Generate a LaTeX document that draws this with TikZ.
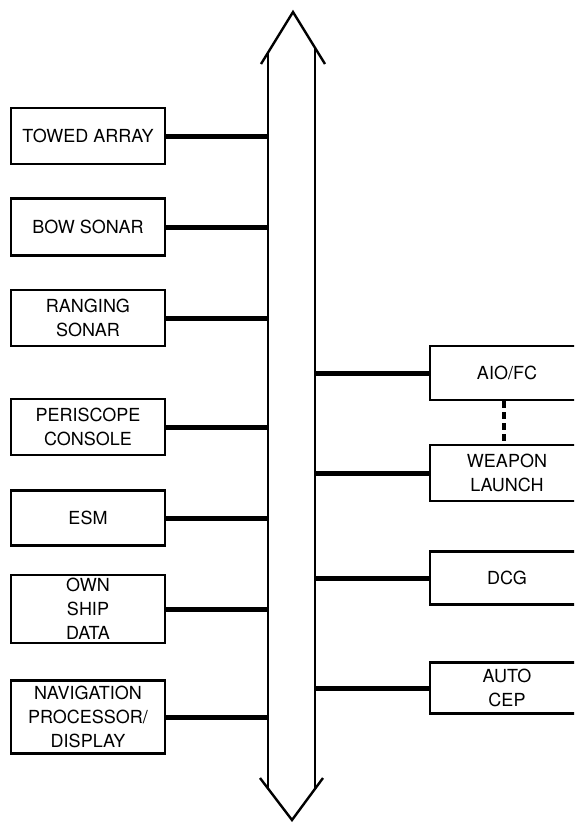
\documentclass[tikz,border=0pt]{standalone}
\usepackage{fontspec}
\setmainfont{TeX Gyre Heros}
\usetikzlibrary{positioning,calc}

\begin{document}
\begin{tikzpicture}[x=1pt,y=-1pt,
  unit/.style={draw, line width=2.2pt, minimum width=154pt, align=center,
    font=\fontsize{18}{24}\selectfont, inner sep=0pt},
  link/.style={line width=5pt},
  bus/.style={line width=2.4pt, line join=miter}]
\useasboundingbox (0,0) rectangle (574,823);
\clip (0,0) rectangle (574,823);
% data bus, open arrow at both ends
\coordinate (busL) at (268,0);
\coordinate (busR) at (315,0);
\draw[bus] (261,64) -- (293,12) -- (325,64);
\draw[bus] (268,53) -- (268,789);
\draw[bus] (315,48) -- (315,789);
\draw[bus] (260,778) -- (292,820) -- (323,778);

% sensors and consoles on the left
\node[unit, minimum height=56pt] (towed) at (88,136) {TOWED ARRAY};
\node[unit, minimum height=57pt] (bow) at (88,227) {BOW SONAR};
\node[unit, minimum height=56pt] (ranging) at (88,318) {RANGING\\SONAR};
\node[unit, minimum height=56pt] (periscope) at (88,427) {PERISCOPE\\CONSOLE};
\node[unit, minimum height=55pt] (esm) at (88,518) {ESM};
\node[unit, minimum height=68pt] (ownship) at (88,609) {OWN\\SHIP\\DATA};
\node[unit, minimum height=73pt] (nav) at (88,717) {NAVIGATION\\PROCESSOR/\\DISPLAY};

% weapon side on the right
\node[unit, minimum height=54pt] (aiofc) at (507,373) {AIO/FC};
\node[unit, minimum height=56pt] (weapon) at (507,473) {WEAPON\\LAUNCH};
\node[unit, minimum height=53pt] (dcg) at (507,578) {DCG};
\node[unit, minimum height=51pt] (autocep) at (507,688) {AUTO\\CEP};

% links to the bus
\foreach \n in {towed,bow,ranging,periscope,esm,ownship,nav}
  \draw[link] (\n.east) -- (\n.east -| busL);
\foreach \n in {aiofc,weapon,dcg,autocep}
  \draw[link] (\n.west -| busR) -- (\n.west);
\draw[line width=3.5pt, dash pattern=on 7pt off 4pt]
  ([xshift=-3pt]aiofc.south) -- ([xshift=-3pt]weapon.north);
\end{tikzpicture}
\end{document}
